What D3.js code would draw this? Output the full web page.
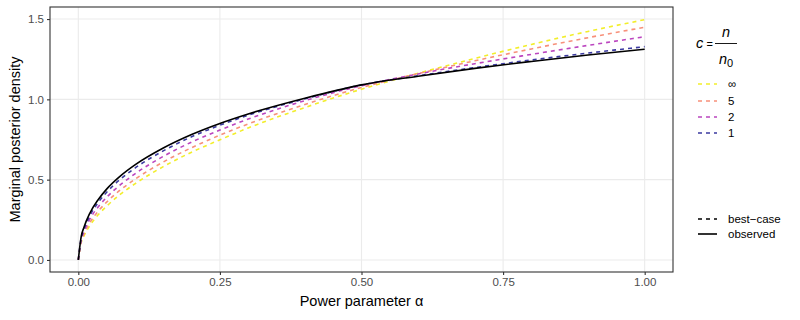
<!DOCTYPE html>
<html>
<head>
	<title>Marginal posterior density</title>
	<script src="https://d3js.org/d3.v7.min.js"></script>
	<style>
		body { margin: 0; background: #fff; }
		text { font-family: "Liberation Sans", Arial, sans-serif; }
		.tick-label { font-size: 11.5px; fill: #4d4d4d; }
		.axis-title { font-size: 14.5px; fill: #000; }
		.legend-text { font-size: 11.5px; fill: #000; }
	</style>
</head>
<body>
	<div id="chart"></div>

	<script type="text/javascript">
		// values
		var alpha = [0, 0.005, 0.01, 0.02, 0.035, 0.05, 0.075, 0.1, 0.15, 0.2, 0.25, 0.3, 0.4, 0.5, 0.6, 0.7, 0.8, 0.9, 1.0];

		var observed = [0, 0.144, 0.204, 0.289, 0.375, 0.441, 0.525, 0.592, 0.697, 0.781, 0.85, 0.909, 1.007, 1.09, 1.144, 1.193, 1.236, 1.276, 1.312];
		var best_c1 = [0, 0.134, 0.191, 0.273, 0.357, 0.421, 0.505, 0.572, 0.679, 0.767, 0.839, 0.901, 1.003, 1.09, 1.147, 1.198, 1.245, 1.288, 1.328];
		var best_c2 = [0, 0.125, 0.177, 0.253, 0.33, 0.39, 0.47, 0.536, 0.645, 0.734, 0.809, 0.877, 0.992, 1.085, 1.158, 1.222, 1.28, 1.336, 1.39];
		var best_c5 = [0, 0.115, 0.162, 0.23, 0.303, 0.36, 0.438, 0.502, 0.61, 0.699, 0.777, 0.847, 0.968, 1.074, 1.16, 1.24, 1.314, 1.384, 1.449];
		var best_inf = [0, 0.106, 0.15, 0.212, 0.281, 0.335, 0.411, 0.474, 0.581, 0.671, 0.748, 0.822, 0.949, 1.063, 1.162, 1.255, 1.342, 1.423, 1.496];

		var cLabels = ["\u221e", "5", "2", "1"];
		var cColors = ["#f2ee2a", "#f7907a", "#bb45bf", "#3b3aa0"];
		var cSeries = [best_inf, best_c5, best_c2, best_c1];

		var xTicks = [0, 0.25, 0.5, 0.75, 1.0];
		var yTicks = [0, 0.5, 1.0, 1.5];

		var W = 800, H = 320;
		var panel = {left: 50, right: 673, top: 7, bottom: 272};

		var svg = d3.select("#chart").append("svg")
			.attr("width", W)
			.attr("height", H);

		var x = d3.scaleLinear().domain([-0.05, 1.05]).range([panel.left, panel.right]);
		var y = d3.scaleLinear().domain([-0.075, 1.575]).range([panel.bottom, panel.top]);

		// grid
		svg.append("g").selectAll("line").data(xTicks).enter().append("line")
			.attr("x1", d => x(d)).attr("x2", d => x(d))
			.attr("y1", panel.top).attr("y2", panel.bottom)
			.attr("stroke", "#ebebeb").attr("stroke-width", 1.1);
		svg.append("g").selectAll("line").data(yTicks).enter().append("line")
			.attr("y1", d => y(d)).attr("y2", d => y(d))
			.attr("x1", panel.left).attr("x2", panel.right)
			.attr("stroke", "#ebebeb").attr("stroke-width", 1.1);

		// curves
		var line = d3.line()
			.x(d => x(d[0]))
			.y(d => y(d[1]))
			.curve(d3.curveMonotoneX);

		var curves = svg.append("g");
		cSeries.forEach(function(s, i) {
			curves.append("path")
				.datum(alpha.map((a, j) => [a, s[j]]))
				.attr("d", line)
				.attr("fill", "none")
				.attr("stroke", cColors[i])
				.attr("stroke-width", 1.6)
				.attr("stroke-dasharray", "4,4");
		});
		curves.append("path")
			.datum(alpha.map((a, j) => [a, observed[j]]))
			.attr("d", line)
			.attr("fill", "none")
			.attr("stroke", "#000")
			.attr("stroke-width", 1.6);

		// panel border
		svg.append("rect")
			.attr("x", panel.left).attr("y", panel.top)
			.attr("width", panel.right - panel.left)
			.attr("height", panel.bottom - panel.top)
			.attr("fill", "none")
			.attr("stroke", "#333")
			.attr("stroke-width", 1.1);

		// axes
		var xAxis = svg.append("g")
			.attr("transform", "translate(0," + panel.bottom + ")")
			.call(d3.axisBottom(x).tickValues(xTicks).tickFormat(d3.format(".2f")).tickSize(3).tickPadding(3));
		var yAxis = svg.append("g")
			.attr("transform", "translate(" + panel.left + ",0)")
			.call(d3.axisLeft(y).tickValues(yTicks).tickFormat(d3.format(".1f")).tickSize(3).tickPadding(3));
		[xAxis, yAxis].forEach(function(a) {
			a.select(".domain").remove();
			a.selectAll(".tick line").attr("stroke", "#333").attr("stroke-width", 1.1);
			a.selectAll(".tick text").attr("class", "tick-label").attr("font-family", null).attr("font-size", null);
		});

		svg.append("text")
			.attr("class", "axis-title")
			.attr("x", (panel.left + panel.right) / 2)
			.attr("y", 306)
			.attr("text-anchor", "middle")
			.text("Power parameter \u03b1");

		svg.append("text")
			.attr("class", "axis-title")
			.attr("transform", "translate(20," + (panel.top + panel.bottom) / 2 + ") rotate(-90)")
			.attr("text-anchor", "middle")
			.text("Marginal posterior density");

		// legend: c = n / n0
		var lg = svg.append("g");
		lg.append("text").attr("class", "axis-title")
			.attr("x", 696).attr("y", 48)
			.style("font-style", "italic")
			.text("c");
		lg.append("text").attr("class", "axis-title")
			.attr("x", 706.5).attr("y", 48)
			.style("font-size", "11px")
			.text("=");
		lg.append("line")
			.attr("x1", 715).attr("x2", 737)
			.attr("y1", 43.5).attr("y2", 43.5)
			.attr("stroke", "#000").attr("stroke-width", 0.9);
		lg.append("text").attr("class", "axis-title")
			.attr("x", 726).attr("y", 37)
			.attr("text-anchor", "middle")
			.style("font-style", "italic")
			.text("n");
		var den = lg.append("text").attr("class", "axis-title")
			.attr("x", 726).attr("y", 64)
			.attr("text-anchor", "middle");
		den.append("tspan").style("font-style", "italic").text("n");
		den.append("tspan").attr("dy", 3).style("font-size", "11px").text("0");

		var keyY = [84, 101, 117, 133];
		cLabels.forEach(function(lab, i) {
			lg.append("line")
				.attr("x1", 698).attr("x2", 717)
				.attr("y1", keyY[i]).attr("y2", keyY[i])
				.attr("stroke", cColors[i]).attr("stroke-width", 1.6)
				.attr("stroke-dasharray", "4,4");
			lg.append("text").attr("class", "legend-text")
				.attr("x", 728).attr("y", keyY[i] + 4)
				.text(lab);
		});

		var typeLabels = ["best\u2212case", "observed"];
		var typeDash = ["4,4", null];
		var typeY = [219, 234];
		typeLabels.forEach(function(lab, i) {
			lg.append("line")
				.attr("x1", 698).attr("x2", 717)
				.attr("y1", typeY[i]).attr("y2", typeY[i])
				.attr("stroke", "#000").attr("stroke-width", 1.6)
				.attr("stroke-dasharray", typeDash[i]);
			lg.append("text").attr("class", "legend-text")
				.attr("x", 728).attr("y", typeY[i] + 4)
				.text(lab);
		});
	</script>
</body>
</html>
